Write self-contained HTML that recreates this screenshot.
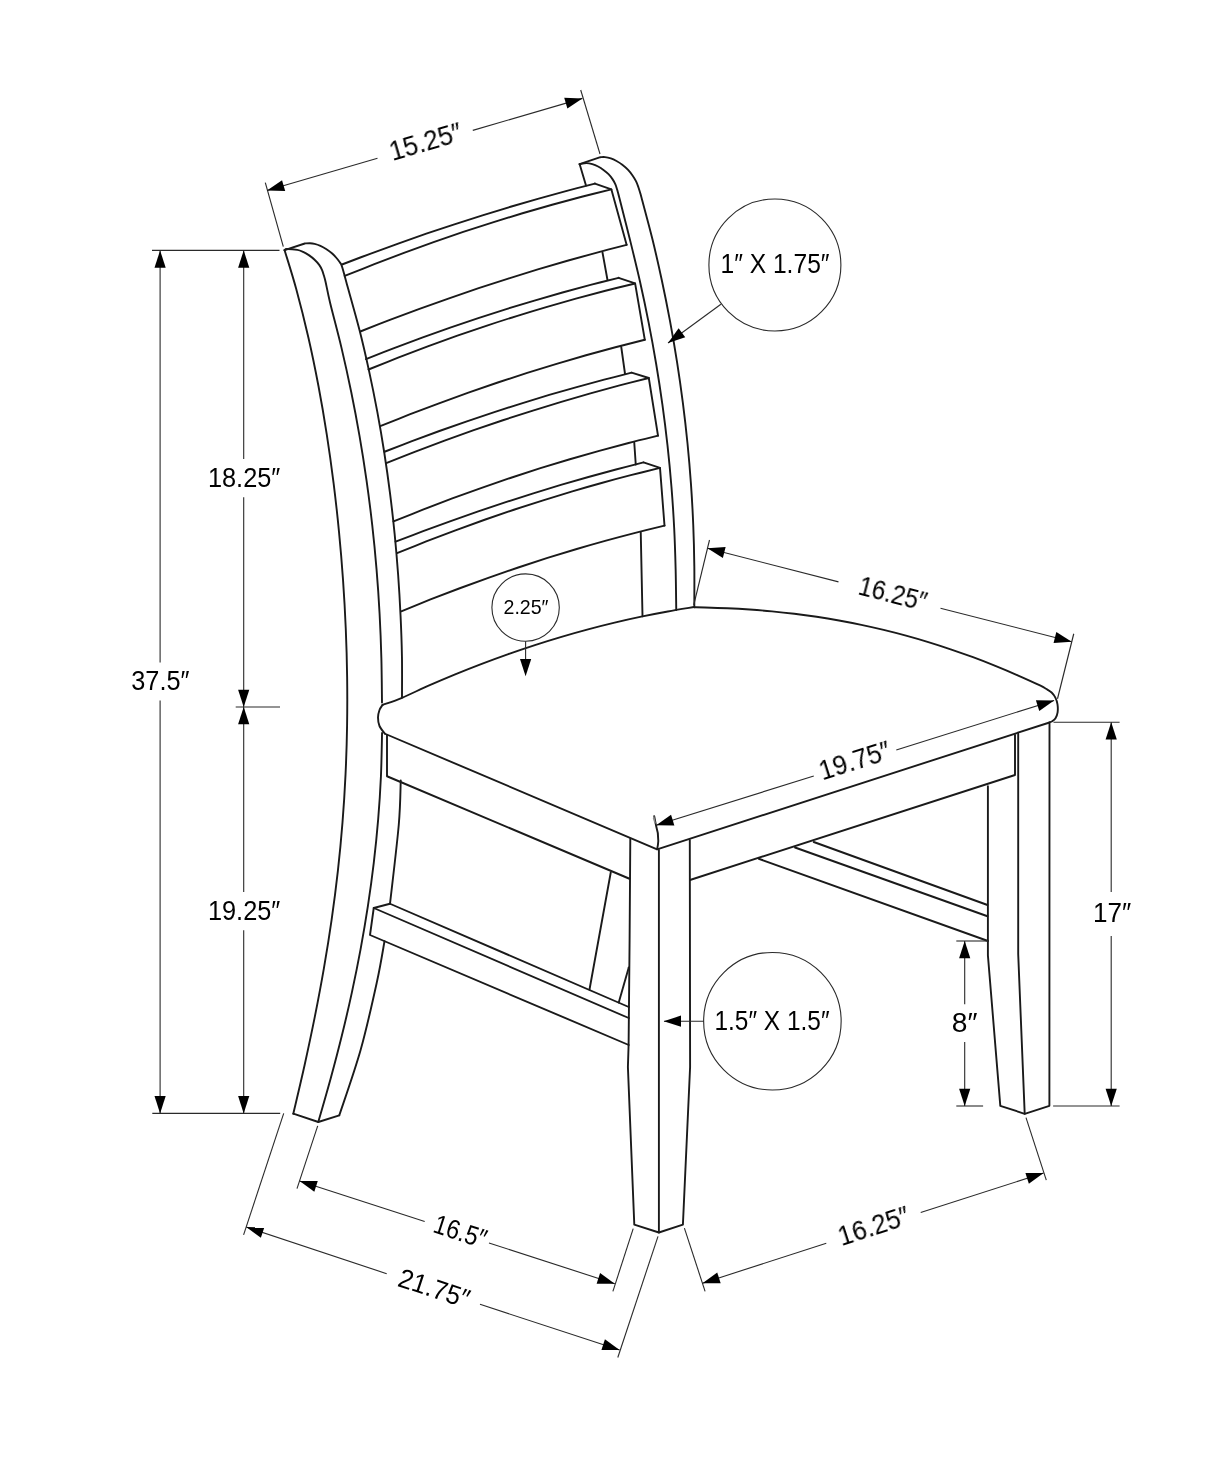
<!DOCTYPE html>
<html><head><meta charset="utf-8"><title>Chair dimensions</title>
<style>
html,body{margin:0;padding:0;background:#fff;}
body{width:1214px;height:1473px;overflow:hidden;}
svg{display:block;}
text{font-family:"Liberation Sans",sans-serif;fill:#000;}
</style></head><body>
<svg width="1214" height="1473" viewBox="0 0 1214 1473">
<rect width="1214" height="1473" fill="#fff"/>
<g fill="none" stroke="#1a1a1a" stroke-width="1.9" stroke-linejoin="round" stroke-linecap="round">
<path d="M284.60,250.20 C286.54,256.67 292.26,274.45 296.23,289.00 C300.19,303.55 304.68,321.34 308.38,337.51 C312.09,353.68 315.39,369.85 318.46,386.02 C321.53,402.19 324.27,418.36 326.79,434.54 C329.31,450.71 331.55,466.88 333.59,483.05 C335.62,499.22 337.41,515.39 338.98,531.56 C340.56,547.73 341.91,563.90 343.04,580.07 C344.17,596.24 345.08,612.41 345.76,628.58 C346.45,644.75 346.91,660.92 347.13,677.09 C347.35,693.26 347.34,709.44 347.08,725.61 C346.82,741.78 346.32,757.95 345.55,774.12 C344.78,790.29 343.77,806.46 342.48,822.63 C341.20,838.80 339.65,854.97 337.85,871.14 C336.04,887.31 333.96,903.48 331.64,919.65 C329.33,935.82 326.73,951.99 323.93,968.16 C321.13,984.34 318.06,1000.51 314.84,1016.68 C311.61,1032.85 308.15,1049.02 304.57,1065.19 C300.98,1081.36 295.18,1105.61 293.30,1113.70"/>
<path d="M284.60,250.20 C284.98,250.00 284.78,249.05 286.90,249.00 C289.02,248.95 294.60,249.42 297.30,249.90 C300.00,250.38 301.18,251.03 303.10,251.90 C305.02,252.77 306.88,253.80 308.80,255.10 C310.72,256.40 312.87,258.07 314.60,259.70 C316.33,261.33 317.95,263.17 319.20,264.90 C320.45,266.63 321.33,268.37 322.10,270.10 C322.87,271.83 323.22,273.32 323.80,275.30 C324.38,277.28 324.54,277.38 325.60,282.00 C326.66,286.62 327.52,292.10 330.15,303.00 C332.78,313.90 337.88,332.59 341.38,347.39 C344.88,362.19 348.14,376.98 351.17,391.78 C354.20,406.57 356.99,421.37 359.55,436.17 C362.11,450.96 364.44,465.76 366.56,480.56 C368.67,495.35 370.55,510.15 372.21,524.94 C373.88,539.74 375.32,554.54 376.55,569.33 C377.78,584.13 378.79,598.93 379.59,613.72 C380.39,628.52 380.97,643.31 381.37,658.11 C381.77,672.91 381.90,695.10 382.00,702.50"/>
<path d="M382.06,733.00 C381.87,740.20 381.59,761.81 380.94,776.22 C380.28,790.63 379.35,805.04 378.16,819.44 C376.97,833.85 375.51,848.26 373.80,862.67 C372.09,877.07 370.12,891.48 367.92,905.89 C365.72,920.30 363.27,934.70 360.60,949.11 C357.93,963.52 355.01,977.93 351.89,992.33 C348.77,1006.74 345.42,1021.15 341.87,1035.56 C338.32,1049.96 334.52,1064.37 330.60,1078.78 C326.67,1093.19 320.35,1114.80 318.30,1122.00"/>
<path d="M284.6,250.2 L304.8,243.5 C305.67,243.45 308.37,243.15 310.00,243.20 C311.63,243.25 312.87,243.37 314.60,243.80 C316.33,244.23 318.48,244.93 320.40,245.80 C322.32,246.67 324.18,247.75 326.10,249.00 C328.02,250.25 330.17,251.80 331.90,253.30 C333.63,254.80 335.15,256.45 336.50,258.00 C337.85,259.55 339.18,261.45 340.00,262.60 C340.82,263.75 340.83,263.47 341.40,264.90 C341.97,266.33 342.58,268.35 343.40,271.20 C344.22,274.05 343.62,272.20 346.30,282.00 C348.98,291.80 355.71,315.19 359.50,330.00 C363.29,344.81 366.07,357.22 369.03,370.83 C371.99,384.44 374.73,398.06 377.27,411.67 C379.80,425.28 382.13,438.89 384.25,452.50 C386.38,466.11 388.30,479.72 390.03,493.33 C391.77,506.94 393.30,520.56 394.65,534.17 C396.00,547.78 397.16,561.39 398.15,575.00 C399.13,588.61 399.93,602.22 400.56,615.83 C401.20,629.44 401.71,643.06 401.95,656.67 C402.19,670.28 401.99,690.69 402.00,697.50"/>
<path d="M400.75,780.50 C400.42,787.92 400.54,804.46 398.75,825.00 C396.96,845.54 391.46,890.62 390.00,903.75"/>
<path d="M384.50,941.25 C383.23,948.04 380.88,963.88 376.90,982.00 C372.92,1000.12 366.87,1027.78 360.60,1050.00 C354.33,1072.22 342.85,1104.42 339.30,1115.30"/>
<path d="M293.30,1113.70 L318.30,1122.00 L339.30,1115.30"/>
<path d="M579.6,164.1 L600.4,157.2 C601.17,157.18 603.27,156.90 605.00,157.10 C606.73,157.30 608.88,157.75 610.80,158.40 C612.72,159.05 614.58,159.95 616.50,161.00 C618.42,162.05 620.37,163.22 622.30,164.70 C624.23,166.18 626.37,168.07 628.10,169.90 C629.83,171.73 631.37,173.78 632.70,175.70 C634.03,177.62 635.15,179.48 636.10,181.40 C637.05,183.32 637.72,185.27 638.40,187.20 C639.08,189.13 639.67,191.20 640.20,193.00 C640.73,194.80 639.58,190.37 641.60,198.00 C643.62,205.63 648.98,225.18 652.33,238.80 C655.68,252.42 658.78,266.09 661.71,279.73 C664.65,293.38 667.39,307.02 669.93,320.67 C672.48,334.31 674.83,347.96 676.98,361.60 C679.13,375.24 681.08,388.89 682.84,402.53 C684.60,416.18 686.16,429.82 687.51,443.47 C688.87,457.11 690.03,470.76 690.99,484.40 C691.95,498.04 692.71,511.69 693.26,525.33 C693.82,538.98 694.15,552.62 694.32,566.27 C694.50,579.91 694.30,600.38 694.30,607.20"/>
<path d="M579.60,164.10 C580.75,163.93 584.38,163.10 586.50,163.10 C588.62,163.10 590.37,163.53 592.30,164.10 C594.23,164.67 596.18,165.48 598.10,166.50 C600.02,167.52 602.07,168.92 603.80,170.20 C605.53,171.48 607.05,172.72 608.50,174.20 C609.95,175.68 611.35,177.42 612.50,179.10 C613.65,180.78 614.63,182.57 615.40,184.30 C616.17,186.03 616.43,187.22 617.10,189.50 C617.77,191.78 617.24,189.55 619.40,198.00 C621.56,206.45 626.66,226.32 630.08,240.20 C633.50,254.08 636.83,267.59 639.92,281.29 C643.00,294.99 645.89,308.68 648.59,322.38 C651.28,336.07 653.79,349.77 656.09,363.47 C658.39,377.16 660.50,390.86 662.41,404.56 C664.32,418.25 666.03,431.95 667.53,445.64 C669.04,459.34 670.35,473.04 671.45,486.73 C672.56,500.43 673.46,514.13 674.16,527.82 C674.85,541.52 675.28,555.21 675.63,568.91 C675.98,582.61 676.15,603.15 676.25,610.00"/>
<path d="M579.60,164.10 L586.00,185.50"/>
<path d="M602.50,252.50 L607.50,280.00"/>
<path d="M621.25,347.00 L625.00,373.75"/>
<path d="M634.25,442.50 L635.75,464.50"/>
<path d="M640.75,532.50 L642.50,616.25"/>
<path d="M342.00,264.49 C346.68,262.71 360.73,257.30 370.10,253.81 C379.47,250.32 388.83,246.91 398.20,243.56 C407.57,240.21 416.93,236.93 426.30,233.72 C435.67,230.52 445.03,227.38 454.40,224.31 C463.77,221.24 473.13,218.25 482.50,215.32 C491.87,212.39 501.23,209.53 510.60,206.74 C519.97,203.96 529.33,201.24 538.70,198.59 C548.07,195.94 557.43,193.37 566.80,190.86 C576.17,188.35 590.22,184.77 594.90,183.55"/>
<path d="M344.70,275.99 C349.64,274.02 364.46,268.01 374.33,264.16 C384.21,260.30 394.09,256.54 403.97,252.87 C413.84,249.20 423.72,245.63 433.60,242.14 C443.48,238.66 453.36,235.27 463.23,231.97 C473.11,228.67 482.99,225.46 492.87,222.34 C502.74,219.23 512.62,216.20 522.50,213.27 C532.38,210.34 542.26,207.50 552.13,204.75 C562.01,202.01 571.89,199.35 581.77,196.79 C591.64,194.23 606.46,190.62 611.40,189.38"/>
<path d="M360.30,331.50 C365.23,329.58 380.03,323.73 389.89,319.96 C399.75,316.20 409.61,312.51 419.48,308.90 C429.34,305.30 439.20,301.77 449.07,298.32 C458.93,294.87 468.79,291.50 478.66,288.22 C488.52,284.93 498.38,281.72 508.24,278.59 C518.11,275.46 527.97,272.41 537.83,269.44 C547.70,266.46 557.56,263.57 567.42,260.76 C577.29,257.95 587.15,255.21 597.01,252.56 C606.87,249.91 621.67,246.13 626.60,244.84"/>
<path d="M594.90,183.55 L611.40,189.38 L626.60,244.84"/>
<path d="M366.00,359.09 C370.68,357.26 384.71,351.70 394.07,348.12 C403.42,344.55 412.78,341.06 422.13,337.64 C431.49,334.23 440.84,330.90 450.20,327.65 C459.56,324.40 468.91,321.22 478.27,318.13 C487.62,315.04 496.98,312.03 506.33,309.10 C515.69,306.17 525.04,303.32 534.40,300.56 C543.76,297.79 553.11,295.10 562.47,292.49 C571.82,289.88 581.18,287.36 590.53,284.91 C599.89,282.46 613.92,278.99 618.60,277.81"/>
<path d="M368.50,369.50 C373.44,367.53 388.25,361.52 398.12,357.67 C408.00,353.83 417.87,350.07 427.74,346.41 C437.62,342.76 447.49,339.19 457.37,335.72 C467.24,332.25 477.11,328.88 486.99,325.60 C496.86,322.31 506.74,319.13 516.61,316.04 C526.49,312.94 536.36,309.94 546.23,307.04 C556.11,304.14 565.98,301.33 575.86,298.61 C585.73,295.90 595.60,293.28 605.48,290.75 C615.35,288.23 630.16,284.67 635.10,283.46"/>
<path d="M380.20,426.18 C385.10,424.23 399.80,418.28 409.60,414.47 C419.40,410.65 429.20,406.92 439.00,403.28 C448.80,399.64 458.60,396.09 468.40,392.63 C478.20,389.16 488.00,385.79 497.80,382.50 C507.60,379.21 517.40,376.01 527.20,372.90 C537.00,369.78 546.80,366.76 556.60,363.82 C566.40,360.89 576.20,358.04 586.00,355.28 C595.80,352.52 605.60,349.84 615.40,347.26 C625.20,344.67 639.90,341.02 644.80,339.77"/>
<path d="M618.60,277.81 L635.10,283.46 L644.80,339.77"/>
<path d="M384.50,451.75 C389.08,449.98 402.80,444.61 411.96,441.15 C421.11,437.70 430.26,434.31 439.41,431.01 C448.56,427.70 457.71,424.47 466.87,421.32 C476.02,418.16 485.17,415.08 494.32,412.08 C503.47,409.08 512.63,406.15 521.78,403.30 C530.93,400.44 540.08,397.66 549.23,394.96 C558.39,392.26 567.54,389.63 576.69,387.08 C585.84,384.53 594.99,382.06 604.14,379.65 C613.30,377.25 627.02,373.84 631.60,372.68"/>
<path d="M386.20,463.03 C391.06,461.13 405.65,455.32 415.38,451.59 C425.10,447.86 434.83,444.21 444.56,440.65 C454.28,437.08 464.01,433.60 473.73,430.20 C483.46,426.80 493.19,423.48 502.91,420.25 C512.64,417.02 522.36,413.87 532.09,410.80 C541.81,407.74 551.54,404.75 561.27,401.85 C570.99,398.95 580.72,396.14 590.44,393.40 C600.17,390.67 609.90,388.02 619.62,385.45 C629.35,382.88 643.94,379.24 648.80,378.00"/>
<path d="M393.50,521.44 C398.40,519.48 413.09,513.51 422.89,509.68 C432.69,505.85 442.48,502.11 452.28,498.47 C462.07,494.83 471.87,491.28 481.67,487.82 C491.46,484.37 501.26,481.00 511.06,477.73 C520.85,474.47 530.65,471.29 540.44,468.21 C550.24,465.13 560.04,462.14 569.83,459.24 C579.63,456.34 589.43,453.54 599.22,450.83 C609.02,448.12 618.81,445.51 628.61,442.99 C638.41,440.46 653.10,436.91 658.00,435.70"/>
<path d="M631.60,372.68 L648.80,378.00 L658.00,435.70"/>
<path d="M395.60,541.68 C400.19,539.93 413.96,534.59 423.14,531.15 C432.33,527.71 441.51,524.35 450.69,521.05 C459.87,517.75 469.05,514.53 478.23,511.38 C487.41,508.23 496.60,505.15 505.78,502.14 C514.96,499.13 524.14,496.19 533.32,493.32 C542.50,490.46 551.69,487.66 560.87,484.94 C570.05,482.22 579.23,479.57 588.41,476.99 C597.59,474.41 606.77,471.90 615.96,469.46 C625.14,467.03 638.91,463.55 643.50,462.37"/>
<path d="M397.00,553.12 C401.87,551.17 416.48,545.25 426.22,541.45 C435.96,537.65 445.70,533.94 455.44,530.33 C465.19,526.71 474.93,523.19 484.67,519.76 C494.41,516.33 504.15,512.99 513.89,509.74 C523.63,506.50 533.37,503.34 543.11,500.28 C552.85,497.22 562.59,494.25 572.33,491.37 C582.07,488.49 591.81,485.70 601.56,483.01 C611.30,480.31 621.04,477.71 630.78,475.20 C640.52,472.69 655.13,469.15 660.00,467.94"/>
<path d="M401.25,611.28 C406.12,609.31 420.75,603.32 430.50,599.48 C440.25,595.64 450.00,591.89 459.75,588.24 C469.50,584.59 479.25,581.04 489.00,577.58 C498.75,574.12 508.50,570.75 518.25,567.48 C528.00,564.21 537.75,561.04 547.50,557.96 C557.25,554.88 567.00,551.89 576.75,549.00 C586.50,546.11 596.25,543.32 606.00,540.62 C615.75,537.92 625.50,535.32 635.25,532.81 C645.00,530.30 659.62,526.77 664.50,525.56"/>
<path d="M643.50,462.37 L660.00,467.94 L664.50,525.56"/>
<path d="M382.50,705.00 C385.75,703.79 394.32,700.98 402.00,697.76 C409.68,694.54 419.72,689.58 428.58,685.68 C437.44,681.78 446.30,678.01 455.16,674.37 C464.02,670.73 472.88,667.21 481.75,663.83 C490.61,660.44 499.47,657.18 508.33,654.05 C517.19,650.92 526.05,647.91 534.91,645.04 C543.77,642.16 552.63,639.41 561.49,636.79 C570.35,634.17 579.21,631.67 588.07,629.31 C596.93,626.94 605.79,624.70 614.65,622.59 C623.52,620.48 632.38,618.50 641.24,616.64 C650.10,614.79 658.96,613.06 667.82,611.46 C676.68,609.86 689.97,607.78 694.40,607.04"/>
<path d="M694.40,607.30 C696.17,607.33 699.51,607.32 705.00,607.48 C710.49,607.63 719.89,607.91 727.33,608.25 C734.78,608.59 742.22,609.01 749.67,609.53 C757.11,610.05 764.56,610.65 772.00,611.36 C779.44,612.06 786.89,612.86 794.33,613.77 C801.78,614.67 809.22,615.68 816.67,616.80 C824.11,617.91 831.56,619.14 839.00,620.47 C846.44,621.81 853.89,623.25 861.33,624.82 C868.78,626.38 876.22,628.06 883.67,629.86 C891.11,631.66 898.56,633.57 906.00,635.61 C913.44,637.64 920.89,639.80 928.33,642.08 C935.78,644.36 943.22,646.76 950.67,649.28 C958.11,651.81 965.56,654.45 973.00,657.22 C980.44,659.99 987.89,662.89 995.33,665.90 C1002.78,668.92 1010.22,672.06 1017.67,675.32 C1025.11,678.58 1035.28,683.22 1040.00,685.47 C1044.72,687.72 1044.07,687.63 1046.00,688.80 C1047.93,689.97 1050.02,691.00 1051.60,692.50 C1053.18,694.00 1054.52,695.83 1055.50,697.80 C1056.48,699.77 1057.15,701.88 1057.50,704.30 C1057.85,706.72 1057.93,709.98 1057.60,712.30 C1057.27,714.62 1056.40,716.72 1055.50,718.20 C1054.60,719.68 1053.20,720.52 1052.20,721.20 C1051.20,721.88 1049.95,722.12 1049.50,722.30"/>
<path d="M382.50,705.00 C382.00,705.83 380.25,707.92 379.50,710.00 C378.75,712.08 378.00,714.83 378.00,717.50 C378.00,720.17 378.33,723.29 379.50,726.00 C380.67,728.71 384.08,732.46 385.00,733.75"/>
<path d="M385.00,733.75 L657.10,849.30 L1049.50,722.50"/>
<path d="M387.00,735.00 L387.00,776.25 L629.50,878.75"/>
<path d="M690.00,880.00 L1015.00,775.00 L1015.00,735.00"/>
<path d="M630.30,838.75 L629.60,940.00 L628.60,1045.00 L627.90,1067.00 L634.30,1224.70 L658.90,1232.50 L682.90,1224.70 L690.10,1067.00 L689.80,840.00"/>
<path d="M658.90,850.00 L658.90,1232.50"/>
<path d="M1049.50,723.00 L1049.40,1105.80 L1024.70,1113.80 L1000.30,1105.80 L987.90,955.30 L987.90,786.25"/>
<path d="M1018.20,733.75 L1018.20,954.00 L1024.70,1113.80"/>
<path d="M813.75,842.00 L987.50,905.00"/>
<path d="M795.00,847.50 L987.50,916.25"/>
<path d="M758.75,858.75 L988.00,941.00"/>
<path d="M390.00,903.75 L628.75,1007.00"/>
<path d="M390.00,903.75 L373.75,908.00 L628.75,1018.00"/>
<path d="M373.75,908.00 L370.00,935.00 L628.75,1045.00"/>
<path d="M610.75,872.50 L589.50,989.50"/>
<path d="M628.75,967.50 L618.75,1002.50"/>
<path d="M654.2,816.1 L656,825.4 C657.5,830 658.5,836 658.3,841 C658.1,845 657.5,847.5 657.1,849.3"/>
</g>
<g fill="none" stroke="#2a2a2a" stroke-width="1.1">
<line x1="267.00" y1="190.50" x2="377.50" y2="158.30"/>
<line x1="472.80" y1="130.40" x2="582.40" y2="98.40"/>
<line x1="265.30" y1="182.70" x2="283.30" y2="246.70"/>
<line x1="580.70" y1="90.00" x2="600.00" y2="154.00"/>
<line x1="160.10" y1="250.00" x2="160.10" y2="662.40"/>
<line x1="160.10" y1="700.60" x2="160.10" y2="1113.00"/>
<line x1="152.00" y1="250.40" x2="279.50" y2="250.40"/>
<line x1="152.30" y1="1113.40" x2="280.20" y2="1113.40"/>
<line x1="243.70" y1="250.00" x2="243.70" y2="459.10"/>
<line x1="243.70" y1="497.30" x2="243.70" y2="707.00"/>
<line x1="243.70" y1="707.00" x2="243.70" y2="892.10"/>
<line x1="243.70" y1="930.30" x2="243.70" y2="1113.00"/>
<line x1="235.70" y1="707.00" x2="280.00" y2="707.00"/>
<line x1="1111.20" y1="722.20" x2="1111.20" y2="891.90"/>
<line x1="1111.20" y1="936.00" x2="1111.20" y2="1106.00"/>
<line x1="1053.50" y1="722.20" x2="1119.60" y2="722.20"/>
<line x1="1053.10" y1="1106.00" x2="1119.60" y2="1106.00"/>
<line x1="964.70" y1="941.00" x2="964.70" y2="1004.20"/>
<line x1="964.70" y1="1042.00" x2="964.70" y2="1106.00"/>
<line x1="956.30" y1="941.00" x2="988.00" y2="941.00"/>
<line x1="956.30" y1="1106.00" x2="983.10" y2="1106.00"/>
<line x1="707.50" y1="548.20" x2="838.50" y2="581.90"/>
<line x1="940.50" y1="608.20" x2="1071.70" y2="641.80"/>
<line x1="709.50" y1="540.00" x2="693.75" y2="605.00"/>
<line x1="1073.75" y1="633.75" x2="1057.50" y2="698.75"/>
<line x1="656.20" y1="825.30" x2="813.75" y2="776.00"/>
<line x1="896.30" y1="750.00" x2="1054.10" y2="700.40"/>
<line x1="299.60" y1="1181.00" x2="424.70" y2="1221.50"/>
<line x1="489.00" y1="1243.00" x2="614.80" y2="1283.70"/>
<line x1="317.70" y1="1125.90" x2="297.00" y2="1188.70"/>
<line x1="633.20" y1="1228.60" x2="612.90" y2="1291.30"/>
<line x1="246.20" y1="1227.10" x2="386.70" y2="1273.70"/>
<line x1="480.00" y1="1304.30" x2="619.60" y2="1350.00"/>
<line x1="283.70" y1="1113.40" x2="243.60" y2="1234.80"/>
<line x1="658.00" y1="1236.30" x2="617.80" y2="1357.50"/>
<line x1="702.50" y1="1283.20" x2="826.30" y2="1243.30"/>
<line x1="920.70" y1="1212.60" x2="1043.60" y2="1173.00"/>
<line x1="684.40" y1="1228.20" x2="705.10" y2="1291.30"/>
<line x1="1026.00" y1="1117.70" x2="1046.30" y2="1180.10"/>
<circle cx="774.9" cy="265" r="66"/>
<line x1="720.90" y1="304.20" x2="668.00" y2="343.00"/>
<circle cx="772.4" cy="1021.2" r="68.75"/>
<line x1="703.70" y1="1021.20" x2="664.00" y2="1021.20"/>
<circle cx="525.6" cy="607.6" r="33.7"/>
<line x1="525.60" y1="641.30" x2="525.60" y2="665.00"/>
</g>
<g fill="#000" stroke="none">
<polygon points="267.00,190.50 282.04,180.28 285.18,191.03"/>
<polygon points="582.40,98.40 567.36,108.62 564.22,97.87"/>
<polygon points="160.10,250.40 165.70,267.70 154.50,267.70"/>
<polygon points="160.10,1113.40 154.50,1096.10 165.70,1096.10"/>
<polygon points="243.70,250.40 249.30,267.70 238.10,267.70"/>
<polygon points="243.70,707.00 238.10,689.70 249.30,689.70"/>
<polygon points="243.70,707.00 249.30,724.30 238.10,724.30"/>
<polygon points="243.70,1113.40 238.10,1096.10 249.30,1096.10"/>
<polygon points="1111.20,722.20 1116.80,739.50 1105.60,739.50"/>
<polygon points="1111.20,1106.00 1105.60,1088.70 1116.80,1088.70"/>
<polygon points="964.70,941.00 970.30,958.30 959.10,958.30"/>
<polygon points="964.70,1106.00 959.10,1088.70 970.30,1088.70"/>
<polygon points="707.50,548.20 725.65,547.08 722.86,557.93"/>
<polygon points="1071.70,641.80 1053.55,642.92 1056.34,632.07"/>
<polygon points="656.20,825.30 671.03,814.78 674.38,825.46"/>
<polygon points="1054.10,700.40 1039.27,710.92 1035.92,700.24"/>
<polygon points="299.60,1181.00 317.78,1181.03 314.31,1191.68"/>
<polygon points="614.80,1283.70 596.62,1283.67 600.09,1273.02"/>
<polygon points="246.20,1227.10 264.38,1227.19 260.88,1237.83"/>
<polygon points="619.60,1350.00 601.42,1349.91 604.92,1339.27"/>
<polygon points="702.50,1283.20 717.24,1272.55 720.68,1283.21"/>
<polygon points="1043.60,1173.00 1028.86,1183.65 1025.42,1172.99"/>
<polygon points="668.00,343.00 678.64,328.25 685.26,337.29"/>
<polygon points="663.70,1021.20 681.00,1015.60 681.00,1026.80"/>
<polygon points="525.60,676.30 520.00,659.00 531.20,659.00"/>
<polygon points="652.9,818.6 654.2,815.6 655.9,823.6 654.4,823.2" fill="#8a8a8a"/>
</g>
<g opacity="0.999">
<text transform="translate(425.50,142.00) rotate(-16.28)" x="0" y="9.29" font-size="27" text-anchor="middle" textLength="74.23" lengthAdjust="spacingAndGlyphs">15.25″</text>
<text transform="translate(160.40,680.25) rotate(0.00)" x="0" y="9.29" font-size="27" text-anchor="middle" textLength="58.22" lengthAdjust="spacingAndGlyphs">37.5″</text>
<text transform="translate(244.12,478.00) rotate(0.00)" x="0" y="9.29" font-size="27" text-anchor="middle" textLength="72.35" lengthAdjust="spacingAndGlyphs">18.25″</text>
<text transform="translate(244.12,911.00) rotate(0.00)" x="0" y="9.29" font-size="27" text-anchor="middle" textLength="72.35" lengthAdjust="spacingAndGlyphs">19.25″</text>
<text transform="translate(1112.00,912.80) rotate(0.00)" x="0" y="9.29" font-size="27" text-anchor="middle" textLength="38.21" lengthAdjust="spacingAndGlyphs">17″</text>
<text transform="translate(964.70,1023.20) rotate(0.00)" x="0" y="9.29" font-size="27" text-anchor="middle" textLength="25.66" lengthAdjust="spacingAndGlyphs">8″</text>
<text transform="translate(892.90,594.00) rotate(14.41)" x="0" y="9.29" font-size="27" text-anchor="middle" textLength="69.40" lengthAdjust="spacingAndGlyphs">16.25″</text>
<text transform="translate(854.80,760.80) rotate(-17.43)" x="0" y="9.29" font-size="27" text-anchor="middle" textLength="73.34" lengthAdjust="spacingAndGlyphs">19.75″</text>
<text transform="translate(460.30,1231.40) rotate(18.05)" x="0" y="9.29" font-size="27" text-anchor="middle" textLength="54.01" lengthAdjust="spacingAndGlyphs">16.5″</text>
<text transform="translate(434.25,1288.25) rotate(18.22)" x="0" y="9.29" font-size="27" text-anchor="middle" textLength="73.22" lengthAdjust="spacingAndGlyphs">21.75″</text>
<text transform="translate(873.75,1226.25) rotate(-17.90)" x="0" y="9.29" font-size="27" text-anchor="middle" textLength="73.29" lengthAdjust="spacingAndGlyphs">16.25″</text>
<text transform="translate(775.00,264.00) rotate(0.00)" x="0" y="9.29" font-size="27" text-anchor="middle" textLength="109.05" lengthAdjust="spacingAndGlyphs">1″ X 1.75″</text>
<text transform="translate(772.00,1020.25) rotate(0.00)" x="0" y="9.29" font-size="27" text-anchor="middle" textLength="115.06" lengthAdjust="spacingAndGlyphs">1.5″ X 1.5″</text>
<text transform="translate(526.00,607.25) rotate(0.00)" x="0" y="6.95" font-size="20.2" text-anchor="middle" textLength="45.06" lengthAdjust="spacingAndGlyphs">2.25″</text>
</g>
</svg>
</body></html>
